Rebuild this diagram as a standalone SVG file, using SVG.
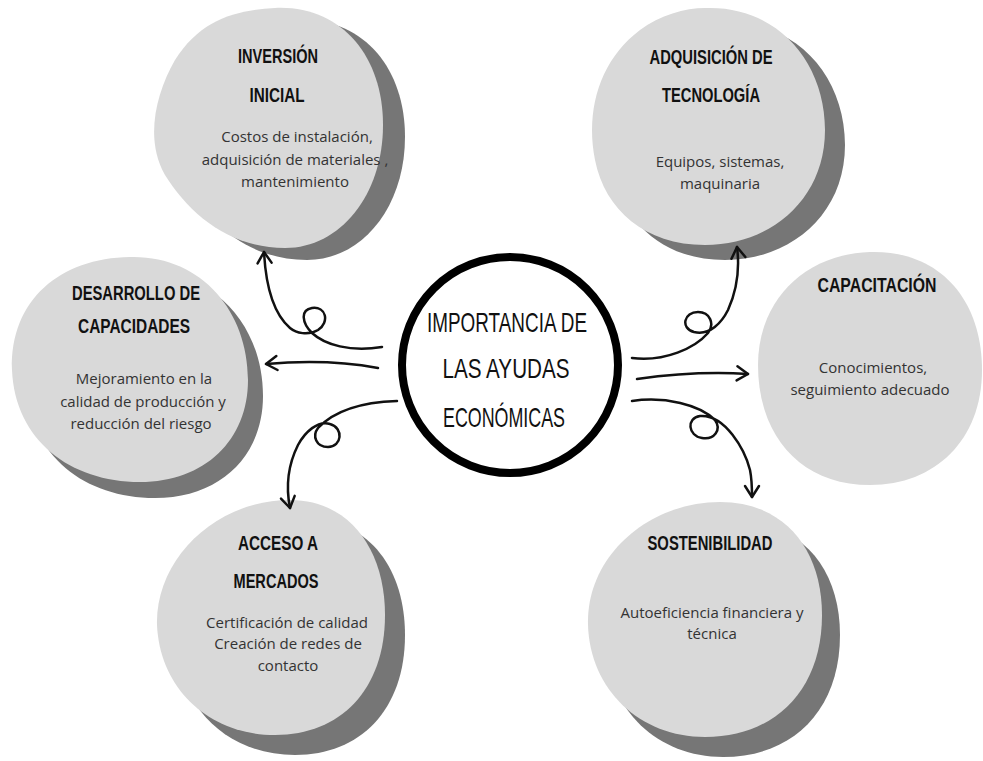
<svg xmlns="http://www.w3.org/2000/svg" width="983" height="761" viewBox="0 0 983 761">
<style>
.light{fill:#d9d9d9}
.shadow{fill:#767676}
.title{font-family:"Liberation Sans","DejaVu Sans",sans-serif;font-weight:bold;font-size:20.5px;fill:#111;text-anchor:middle}
.ctitle{font-family:"Liberation Sans","DejaVu Sans",sans-serif;font-size:28px;fill:#111;text-anchor:middle}
.body{font-family:"Open Sans","Noto Sans",sans-serif;font-size:15px;fill:#333;text-anchor:middle}
.conn{fill:none;stroke:#111;stroke-width:2.5;stroke-linecap:round;stroke-linejoin:round}
</style>
<defs>
<marker id="arr" viewBox="-13 -9 15 18" markerWidth="15" markerHeight="18" refX="0" refY="0" orient="auto" markerUnits="userSpaceOnUse">
<path d="M-11,-7 L0,0 L-11,7" fill="none" stroke="#111" stroke-width="2.5" stroke-linecap="round" stroke-linejoin="round"/>
</marker>
</defs>
<rect width="983" height="761" fill="#ffffff"/>

<g id="inversion">
<path class="shadow" transform="translate(22,12)" d="M275,8 C340,5 383,55 383,125 C383,195 340,248 285,248 C230,248 190,215 165,175 C145,140 155,95 175,60 C200,20 235,10 275,8 Z"/>
<path class="light" d="M275,8 C340,5 383,55 383,125 C383,195 340,248 285,248 C230,248 190,215 165,175 C145,140 155,95 175,60 C200,20 235,10 275,8 Z"/>
<text class="title" x="278" y="63" textLength="80" lengthAdjust="spacingAndGlyphs">INVERSIÓN</text>
<text class="title" x="277" y="102" textLength="55" lengthAdjust="spacingAndGlyphs">INICIAL</text>
<text class="body" x="297" y="142">Costos de instalación,</text>
<text class="body" x="295" y="165">adquisición de materiales ,</text>
<text class="body" x="295" y="187">mantenimiento</text>
</g>

<g id="tecnologia">
<path class="shadow" transform="translate(20,15)" d="M705,8 C775,5 825,60 825,130 C825,200 770,245 705,245 C645,245 605,210 595,160 C585,110 600,60 640,30 C660,15 685,8 705,8 Z"/>
<path class="light" d="M705,8 C775,5 825,60 825,130 C825,200 770,245 705,245 C645,245 605,210 595,160 C585,110 600,60 640,30 C660,15 685,8 705,8 Z"/>
<text class="title" x="711" y="64" textLength="123" lengthAdjust="spacingAndGlyphs">ADQUISICIÓN DE</text>
<text class="title" x="711" y="102" textLength="98" lengthAdjust="spacingAndGlyphs">TECNOLOGÍA</text>
<text class="body" x="720" y="167">Equipos, sistemas,</text>
<text class="body" x="720" y="189">maquinaria</text>
</g>

<g id="desarrollo">
<path class="shadow" transform="translate(15,16)" d="M130,257 C200,255 248,310 248,380 C248,440 205,482 140,482 C70,482 15,440 12,370 C10,300 60,258 130,257 Z"/>
<path class="light" d="M130,257 C200,255 248,310 248,380 C248,440 205,482 140,482 C70,482 15,440 12,370 C10,300 60,258 130,257 Z"/>
<text class="title" x="136" y="300" textLength="128" lengthAdjust="spacingAndGlyphs">DESARROLLO DE</text>
<text class="title" x="134" y="333" textLength="112" lengthAdjust="spacingAndGlyphs">CAPACIDADES</text>
<text class="body" x="144" y="384">Mejoramiento en la</text>
<text class="body" x="143" y="407">calidad de producción y</text>
<text class="body" x="141" y="429">reducción del riesgo</text>
</g>

<g id="capacitacion">
<path class="light" d="M870,252 C940,250 982,300 982,370 C982,440 935,485 870,485 C800,485 758,435 758,365 C758,300 805,254 870,252 Z"/>
<text class="title" x="877" y="292" textLength="119" lengthAdjust="spacingAndGlyphs">CAPACITACIÓN</text>
<text class="body" x="873" y="373">Conocimientos,</text>
<text class="body" x="870" y="395">seguimiento adecuado</text>
</g>

<g id="acceso">
<path class="shadow" transform="translate(20,20)" d="M290,500 C350,500 385,550 385,615 C385,690 340,735 275,735 C210,735 160,690 157,625 C155,560 215,500 290,500 Z"/>
<path class="light" d="M290,500 C350,500 385,550 385,615 C385,690 340,735 275,735 C210,735 160,690 157,625 C155,560 215,500 290,500 Z"/>
<text class="title" x="278" y="550" textLength="80" lengthAdjust="spacingAndGlyphs">ACCESO A</text>
<text class="title" x="276" y="588" textLength="85" lengthAdjust="spacingAndGlyphs">MERCADOS</text>
<text class="body" x="287" y="628">Certificación de calidad</text>
<text class="body" x="288" y="649">Creación de redes de</text>
<text class="body" x="288" y="671">contacto</text>
</g>

<g id="sostenibilidad">
<path class="shadow" transform="translate(18,20)" d="M720,502 C785,502 822,550 822,615 C822,690 775,737 705,737 C640,737 590,690 588,625 C586,555 650,502 720,502 Z"/>
<path class="light" d="M720,502 C785,502 822,550 822,615 C822,690 775,737 705,737 C640,737 590,690 588,625 C586,555 650,502 720,502 Z"/>
<text class="title" x="710" y="550" textLength="125" lengthAdjust="spacingAndGlyphs">SOSTENIBILIDAD</text>
<text class="body" x="712" y="618">Autoeficiencia financiera y</text>
<text class="body" x="712" y="639">técnica</text>
</g>

<g id="centro">
<ellipse cx="510" cy="365" rx="108" ry="108" fill="#ffffff" stroke="#000" stroke-width="8"/>
<text class="ctitle" x="507" y="332" textLength="160" lengthAdjust="spacingAndGlyphs">IMPORTANCIA DE</text>
<text class="ctitle" x="506" y="378" textLength="127" lengthAdjust="spacingAndGlyphs">LAS AYUDAS</text>
<text class="ctitle" x="504" y="427" textLength="122" lengthAdjust="spacingAndGlyphs">ECONÓMICAS</text>
</g>

<g id="connectors">
<path class="conn" marker-end="url(#arr)" d="M382,347 C350,352 325,345 312,333 C302,323 300,310 312,308 C326,306 330,322 318,330 C308,336 296,333 290,328 C275,315 266,290 264,252"/>
<path class="conn" marker-end="url(#arr)" d="M378,368 C340,361 300,361 266,364"/>
<path class="conn" marker-end="url(#arr)" d="M397,401 C365,402 335,410 318,428 C312,436 316,447 328,447 C342,447 344,428 330,424 C318,420 305,432 298,445 C288,465 286,488 290,508"/>
<path class="conn" marker-end="url(#arr)" d="M632,358 C665,362 695,348 708,333 C715,324 710,312 698,312 C684,312 680,328 694,332 C710,336 722,322 728,310 C737,290 740,270 737,247"/>
<path class="conn" marker-end="url(#arr)" d="M637,379 C680,373 715,372 748,374"/>
<path class="conn" marker-end="url(#arr)" d="M632,401 C665,396 700,405 715,420 C722,430 714,440 702,438 C688,436 686,418 700,416 C725,414 745,450 750,470 C752,480 752,490 752,497"/>
</g>
</svg>
